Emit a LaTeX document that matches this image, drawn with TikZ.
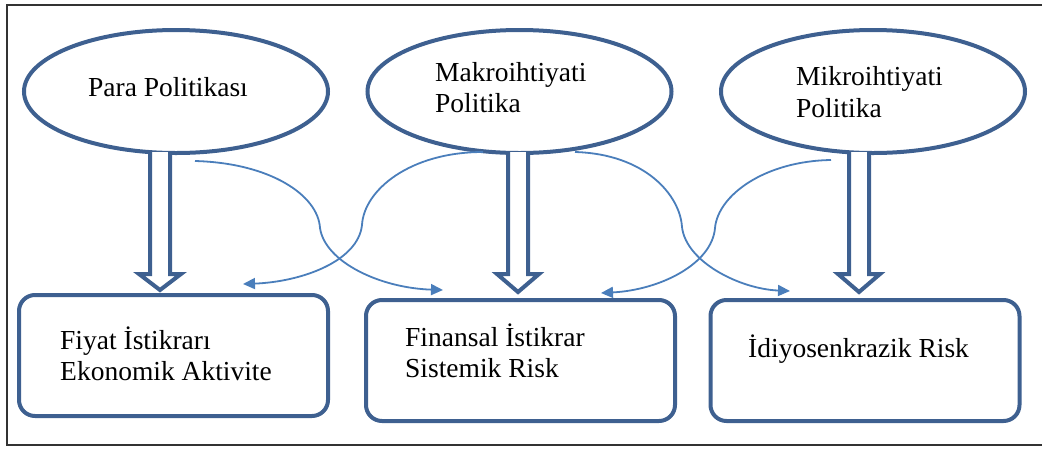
\documentclass[tikz,border=0pt]{standalone}
\usepackage{fontspec}
\setmainfont{Liberation Serif}
\usetikzlibrary{shapes.geometric,arrows.meta,calc}
\definecolor{darkb}{RGB}{62,96,144}
\definecolor{lightb}{RGB}{74,126,187}
\tikzset{
  oval/.style={ellipse, draw=darkb, line width=4pt, minimum width=304pt, minimum height=123pt, inner sep=0pt},
  box/.style={rectangle, rounded corners=16pt, draw=darkb, line width=4pt, minimum width=309pt, minimum height=121pt, inner sep=0pt},
  label/.style={anchor=base west, inner sep=0pt, font=\fontsize{27.5}{31}\selectfont},
  blockarrow/.style={draw=darkb, fill=white, line width=4pt, line join=miter},
  thin/.style={draw=lightb, line width=1.8pt, -{Triangle[length=12pt,width=11pt]}},
}
\begin{document}
\begin{tikzpicture}[x=1pt,y=-1pt]
\useasboundingbox (0,0) rectangle (1042,448);
\draw[line width=2pt, draw=black!80] (1042,5) -- (7,5) -- (7,445) -- (1042,445);

% ellipses
\node[oval] (e1) at (176,91.5) {};
\node[oval] (e2) at (519.5,91.5) {};
\node[oval] (e3) at (873,91.5) {};

% boxes
\node[box] (r1) at (173.5,355.5) {};
\node[box] (r2) at (520.5,360.5) {};
\node[box] (r3) at (865,360.5) {};

% texts
\node[label] (t1) at (88,96) {Para Politikası};
\node[label] (t2a) at (435,81) {Makroihtiyati};
\node[label] (t2b) at (435,112) {Politika};
\node[label] (t3a) at (796,85) {Mikroihtiyati};
\node[label] (t3b) at (796,117) {Politika};
\node[label] (t4a) at (60,349) {Fiyat İstikrarı};
\node[label] (t4b) at (60,380) {Ekonomik Aktivite};
\node[label] (t5a) at (405,346) {Finansal İstikrar};
\node[label] (t5b) at (405,377) {Sistemik Risk};
\node[label] (t6) at (748,357) {İdiyosenkrazik Risk};

% block arrows
\coordinate (a1) at (160,152);
\coordinate (a2) at (518,152);
\coordinate (a3) at (859,152);
\foreach \a/\r/\t in {a1/r1/290, a2/r2/292, a3/r3/292}{
  \draw[blockarrow] ($(\a)+(-10,0)$) -- ($(\a)+(-10,122)$) -- ($(\a)+(-21,122)$)
     -- (\a |- 0,\t) -- ($(\a)+(21,122)$) -- ($(\a)+(10,122)$) -- ($(\a)+(10,0)$);
}

% thin curved arrows
\coordinate (c1s) at (195,161);
\coordinate (c1e) at (443,290);
\coordinate (c2s) at (483,152);
\coordinate (c2e) at (243,284);
\coordinate (c3s) at (575,152);
\coordinate (c3e) at (790,291);
\coordinate (c4s) at (831,160);
\coordinate (c4e) at (601,293);

\draw[thin] (c1s) .. controls (270,163) and (318,195) .. (320,228)
   .. controls (325,262) and (380,288) .. (c1e);
\draw[thin] (c2s) .. controls (410,152) and (364,190) .. (362,225)
   .. controls (358,262) and (300,282) .. (c2e);
\draw[thin] (c3s) .. controls (645,154) and (680,195) .. (682,227)
   .. controls (686,262) and (740,289) .. (c3e);
\draw[thin] (c4s) .. controls (765,161) and (718,195) .. (715,228)
   .. controls (712,264) and (660,290) .. (c4e);
\end{tikzpicture}
\end{document}
